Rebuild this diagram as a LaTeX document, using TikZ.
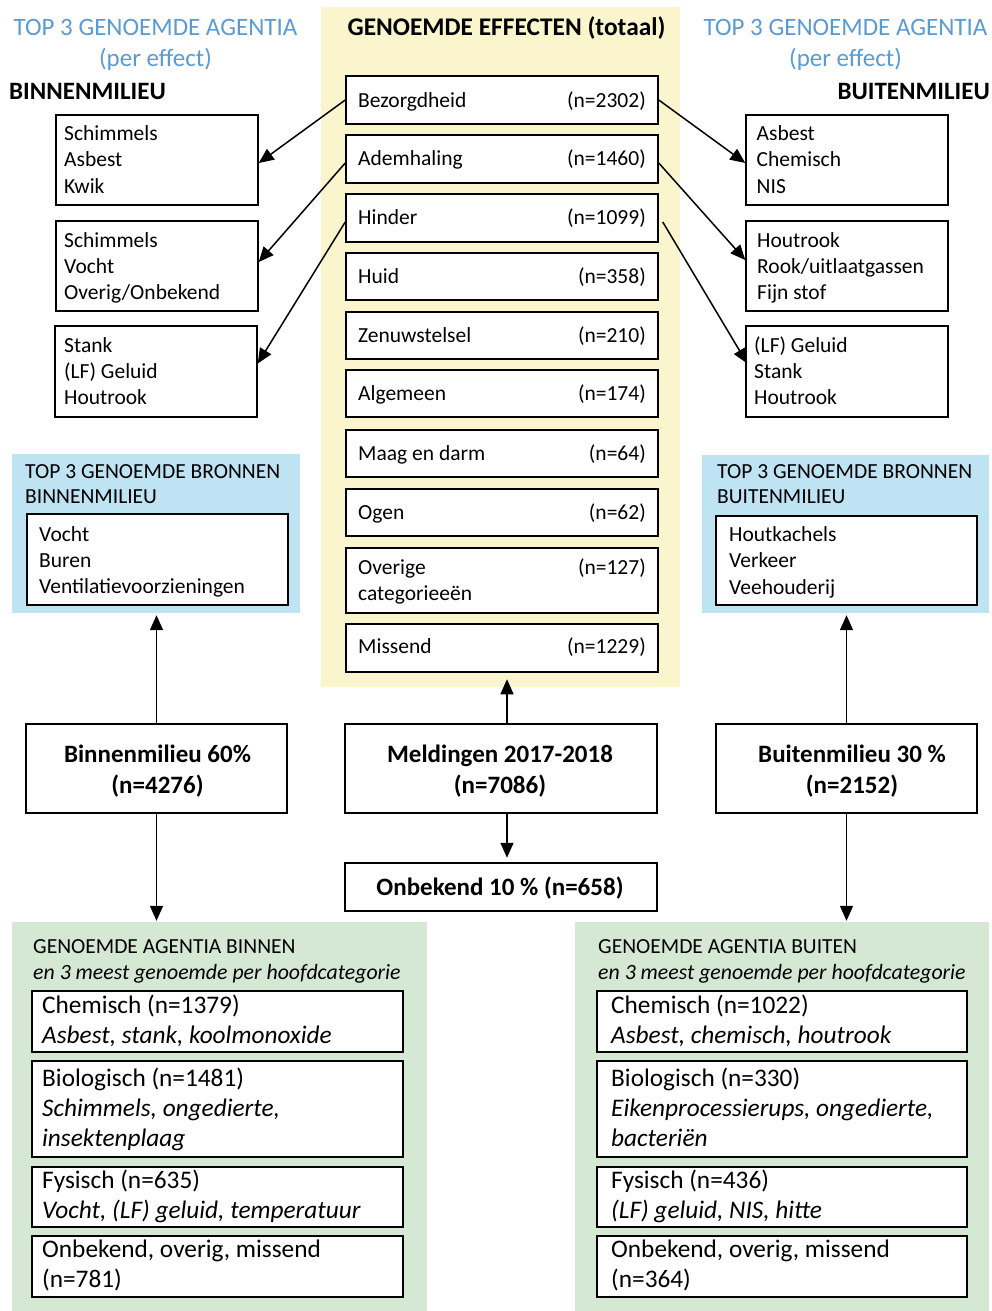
\documentclass[tikz,border=0pt]{standalone}
\usepackage{fontspec}
\setmainfont{Carlito}
\usetikzlibrary{arrows.meta,fit}
\definecolor{blueT}{HTML}{5B9BD5}
\definecolor{yelF}{HTML}{FAF5CC}
\definecolor{bluF}{HTML}{BEE3F3}
\definecolor{greF}{HTML}{D5E8D4}
\newcommand\fbody{\fontsize{21.5}{26}\selectfont}
\newcommand\fhead{\fontsize{25}{31}\selectfont}
\newcommand\fbig{\fontsize{25.3}{30}\selectfont}
% #1 name prefix, #2 style, #3 x, #4 first baseline, #5 skip, #6 lines
\newcommand\txt[6]{\foreach \tline [count=\i] in {#6}{\node[#2] (#1\i) at (#3,{#4+(\i-1)*#5}) {\tline};}}
% #1 name, #2..#5 corners, #6 style
\newcommand\bx[6]{\node[#6, fit={(#2,#3) (#4,#5)}] (#1) {};}
\begin{document}
\begin{tikzpicture}[x=1pt,y=-1pt,
  box/.style={draw=black, line width=1.5pt, fill=white, inner sep=0pt},
  panel/.style={inner sep=0pt, draw=none},
  arr/.style={line width=1.5pt, -{Triangle[length=15pt,width=13pt]}},
  tl/.style={anchor=base west, inner sep=0pt, font=\fbody},
  tr/.style={anchor=base east, inner sep=0pt, font=\fbody},
  hb/.style={anchor=base, inner sep=0pt, font=\fhead, text=blueT},
  hk/.style={inner sep=0pt, font=\fhead\bfseries},
  gl/.style={anchor=base west, inner sep=0pt, font=\fbig},
  gi/.style={anchor=base west, inner sep=0pt, font=\fbig\itshape},
]
\path[fill=white] (0,0) rectangle (992,1311);

% panels
\bx{Yel}{321}{7}{680}{687}{panel, fill=yelF}
\bx{BluL}{12}{454}{300}{613}{panel, fill=bluF}
\bx{BluR}{702}{455}{989}{613}{panel, fill=bluF}
\bx{GreL}{12}{922}{427}{1311}{panel, fill=greF}
\bx{GreR}{575}{922}{989}{1311}{panel, fill=greF}

% headings
\txt{hL}{hb}{155.5}{36}{31}{TOP 3 GENOEMDE AGENTIA,(per effect)}
\txt{hR}{hb}{845.5}{36}{31}{TOP 3 GENOEMDE AGENTIA,(per effect)}
\node[hk, anchor=base west] (hBin) at (9,100) {BINNENMILIEU};
\node[hk, anchor=base east] (hBui) at (990,100) {BUITENMILIEU};
\node[hk, anchor=base, font=\fontsize{25.4}{31}\selectfont\bfseries] (hEff) at (506.5,36) {GENOEMDE EFFECTEN (totaal)};

% left agentia boxes
\bx{L1}{56}{115}{258}{205}{box}
\bx{L2}{56}{221}{258}{311}{box}
\bx{L3}{55}{326}{257}{417}{box}
\txt{L1t}{tl}{64}{140.5}{26.3}{Schimmels,Asbest,Kwik}
\txt{L2t}{tl}{64}{247}{26.3}{Schimmels,Vocht,{Overig/Onbekend}}
\txt{L3t}{tl}{64}{352}{26.3}{Stank,(LF) Geluid,Houtrook}

% right agentia boxes
\bx{R1}{746}{115}{948}{205}{box}
\bx{R2}{746}{221}{948}{311}{box}
\bx{R3}{746}{326}{948}{417}{box}
\txt{R1t}{tl}{756.5}{140.5}{26.3}{Asbest,Chemisch,NIS}
\txt{R2t}{tl}{757}{247}{26.3}{Houtrook,{Rook/uitlaatgassen},Fijn stof}
\txt{R3t}{tl}{754}{352}{26.3}{(LF) Geluid,Stank,Houtrook}

% effect boxes
\bx{Bez}{346}{76}{658}{124}{box}
\bx{Adem}{346}{135}{658}{183}{box}
\bx{Hind}{346}{194}{658}{242}{box}
\bx{Huid}{346}{253}{658}{300}{box}
\bx{Zenu}{346}{312}{658}{359}{box}
\bx{Alg}{346}{370}{658}{417}{box}
\bx{Maag}{346}{430}{658}{477}{box}
\bx{Ogen}{346}{489}{658}{536}{box}
\bx{Ovr}{346}{548}{658}{613}{box}
\bx{Mis}{346}{624}{658}{672}{box}
\node[tl] (BezA) at (358,107.5) {Bezorgdheid};  \node[tr] (BezB) at (646,107.5) {(n=2302)};
\node[tl] (AdemA) at (358,165) {Ademhaling};  \node[tr] (AdemB) at (646,165) {(n=1460)};
\node[tl] (HindA) at (358,224) {Hinder};      \node[tr] (HindB) at (646,224) {(n=1099)};
\node[tl] (HuidA) at (358,283) {Huid};        \node[tr] (HuidB) at (646,283) {(n=358)};
\node[tl] (ZenuA) at (358,342) {Zenuwstelsel};\node[tr] (ZenuB) at (646,342) {(n=210)};
\node[tl] (AlgA) at (358,400) {Algemeen};     \node[tr] (AlgB) at (646,400) {(n=174)};
\node[tl] (MaagA) at (358,460) {Maag en darm}; \node[tr] (MaagB) at (646,460) {(n=64)};
\node[tl] (OgenA) at (358,519) {Ogen};        \node[tr] (OgenB) at (646,519) {(n=62)};
\txt{OvrA}{tl}{358}{574}{26}{Overige,categorieeën}
\node[tr] (OvrB) at (646,574) {(n=127)};
\node[tl] (MisA) at (358,653) {Missend};      \node[tr] (MisB) at (646,653) {(n=1229)};

% diagonal arrows
\draw[arr] (Bez.west) -- ([yshift=-3pt]L1.east);
\draw[arr] ([yshift=-4pt]Adem.west) -- ([yshift=4pt]L2.east);
\draw[arr] ([yshift=-4pt]Hind.west) -- ([yshift=8pt]L3.east);
\draw[arr] (Bez.east) -- ([yshift=-3pt]R1.west);
\draw[arr] ([yshift=-4pt]Adem.east) -- ([yshift=6pt]R2.west);
\draw[arr] ([xshift=4pt,yshift=-4pt]Hind.east) -- ([xshift=2pt,yshift=8pt]R3.west);

% bronnen panels
\txt{BLh}{tl}{25}{478}{25}{TOP 3 GENOEMDE BRONNEN,BINNENMILIEU}
\bx{BLb}{27}{514}{288}{605}{box}
\txt{BLt}{tl}{39}{541}{26.3}{Vocht,Buren,Ventilatievoorzieningen}
\txt{BRh}{tl}{717}{478}{25}{TOP 3 GENOEMDE BRONNEN,BUITENMILIEU}
\bx{BRb}{716}{516}{977}{605}{box}
\txt{BRt}{tl}{729}{541.5}{26.3}{Houtkachels,Verkeer,Veehouderij}

% middle boxes
\bx{BinM}{26}{724}{287}{813}{box}
\bx{Meld}{345}{724}{657}{813}{box}
\bx{BuiM}{716}{724}{977}{813}{box}
\bx{Onb}{345}{863}{657}{911}{box}
\txt{BinMt}{hk, anchor=base}{157.5}{762}{31}{Binnenmilieu 60\%,(n=4276)}
\txt{Meldt}{hk, anchor=base}{500}{762}{31}{Meldingen 2017-2018,(n=7086)}
\txt{BuiMt}{hk, anchor=base}{852}{762}{31}{Buitenmilieu 30 \%,(n=2152)}
\node[hk, anchor=base] (Onbt) at (500,895) {Onbekend 10 \% (n=658)};

% vertical arrows
\draw[arr] (BinM.north) -- ([yshift=-2pt]BinM.north |- BluL.south);
\draw[arr] (BinM.south) -- ([yshift=1pt]BinM.south |- GreL.north);
\draw[arr] ([xshift=6pt]Meld.north) -- ++(0,-44);
\draw[arr] ([xshift=6pt]Meld.south) -- ++(0,44);
\draw[arr] (BuiM.north) -- ([yshift=-2pt]BuiM.north |- BluR.south);
\draw[arr] (BuiM.south) -- ([yshift=1pt]BuiM.south |- GreR.north);

% green panels left
\node[tl] (GLh) at (33,953) {GENOEMDE AGENTIA BINNEN};
\node[tl, font=\fontsize{21.8}{26}\selectfont\itshape] (GLi) at (33,979) {en 3 meest genoemde per hoofdcategorie};
\bx{GL1}{32}{991}{403}{1052}{box}
\bx{GL2}{32}{1061}{403}{1157}{box}
\bx{GL3}{32}{1167}{403}{1227}{box}
\bx{GL4}{32}{1236}{403}{1297}{box}
\node[gl] (GL1a) at (42,1013) {Chemisch (n=1379)};
\node[gi] (GL1b) at (42,1043) {Asbest, stank, koolmonoxide};
\node[gl] (GL2a) at (42,1086) {Biologisch (n=1481)};
\node[gi] (GL2b) at (42,1116) {Schimmels, ongedierte,};
\node[gi] (GL2c) at (42,1146) {insektenplaag};
\node[gl] (GL3a) at (42,1188) {Fysisch (n=635)};
\node[gi] (GL3b) at (42,1218) {Vocht, (LF) geluid, temperatuur};
\node[gl] (GL4a) at (42,1257) {Onbekend, overig, missend};
\node[gl] (GL4b) at (42,1287) {(n=781)};

% green panels right
\node[tl] (GRh) at (598,953) {GENOEMDE AGENTIA BUITEN};
\node[tl, font=\fontsize{21.8}{26}\selectfont\itshape] (GRi) at (598,979) {en 3 meest genoemde per hoofdcategorie};
\bx{GR1}{597}{991}{967}{1052}{box}
\bx{GR2}{597}{1061}{967}{1157}{box}
\bx{GR3}{597}{1167}{967}{1227}{box}
\bx{GR4}{597}{1236}{967}{1297}{box}
\node[gl] (GR1a) at (611,1013) {Chemisch (n=1022)};
\node[gi] (GR1b) at (611,1043) {Asbest, chemisch, houtrook};
\node[gl] (GR2a) at (611,1086) {Biologisch (n=330)};
\node[gi] (GR2b) at (611,1116) {Eikenprocessierups, ongedierte,};
\node[gi] (GR2c) at (611,1146) {bacteriën};
\node[gl] (GR3a) at (611,1188) {Fysisch (n=436)};
\node[gi] (GR3b) at (611,1218) {(LF) geluid, NIS, hitte};
\node[gl] (GR4a) at (611,1257) {Onbekend, overig, missend};
\node[gl] (GR4b) at (611,1287) {(n=364)};
\end{tikzpicture}
\end{document}
